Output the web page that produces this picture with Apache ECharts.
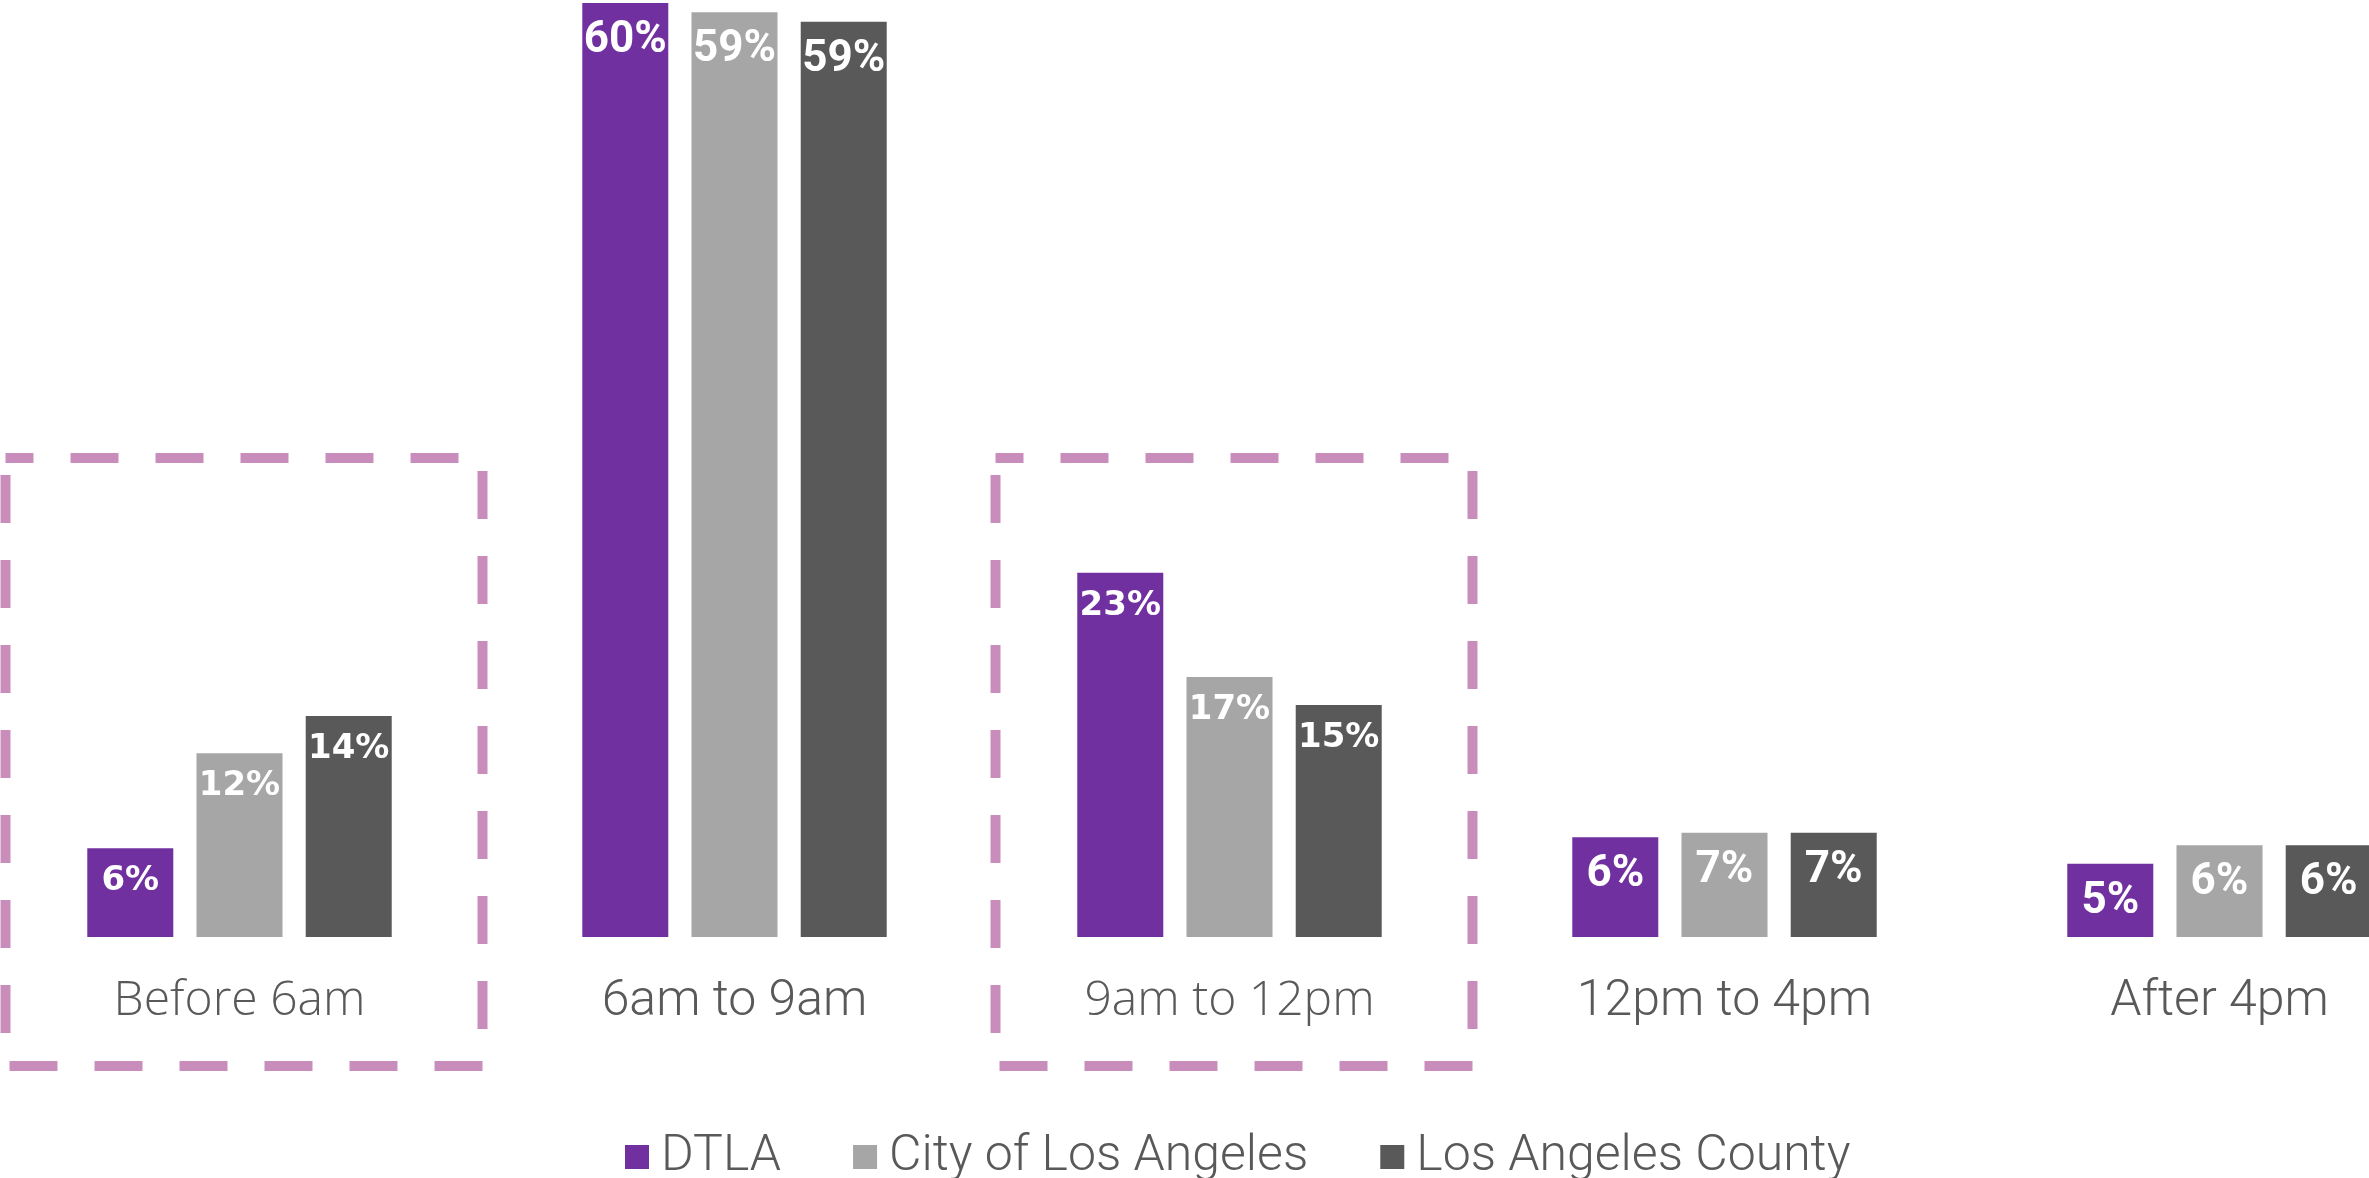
<!DOCTYPE html>
<html>
<head>
<meta charset="utf-8">
<script src="https://cdn.jsdelivr.net/npm/echarts@6/dist/echarts.min.js"></script>
<style>
  html, body { margin: 0; padding: 0; background: #fff; overflow: hidden; }
  /* chart is a bit wider than the window: the last group runs off the right edge */
  #main { position: absolute; left: -8px; top: 0; width: 2475px; height: 1178px; }
</style>
</head>
<body>
<div id="main"></div>
<script>
const categories = ['Before 6am', '6am to 9am', '9am to 12pm', '12pm to 4pm', 'After 4pm']
const seriesNames = ['DTLA', 'City of Los Angeles', 'Los Angeles County']
const dtla = [5.7, 60, 23.4, 6.4, 4.7]
const cityLA = [11.8, 59.4, 16.7, 6.7, 5.9]
const countyLA = [14.2, 58.8, 14.9, 6.7, 5.9]
// groups wrapped in the dashed box
const highlighted = ['Before 6am', '9am to 12pm']

const colors = ['#7030A0', '#A6A6A6', '#595959']
const boxColor = '#C98DBB'

const wideLabel = {fontFamily: 'DejaVu Sans', fontWeight: 'bold', fontSize: 34}
const narrowLabel = {fontFamily: 'Roboto', fontWeight: 'bold', fontSize: 44}

let myChart = echarts.init(document.getElementById('main'))

const makeSeries = (name, values, i) => ({
    name: name,
    type: 'bar',
    barWidth: 86,
    barGap: '27%',
    itemStyle: {color: colors[i]},
    data: values.map((v, k) => ({
        value: v,
        label: highlighted.includes(categories[k]) ? wideLabel : narrowLabel
    })),
    label: {
        show: true,
        position: 'insideTop',
        distance: 16,
        color: '#fff',
        formatter: p => Math.round(p.value) + '%'
    }
})

let option = {
    backgroundColor: '#fff',
    animation: false,
    grid: {left: 0, right: 0, top: 3, height: 934},
    legend: {
        left: 628,
        top: 1127,
        itemWidth: 24,
        itemHeight: 24,
        itemGap: 72,
        icon: 'rect',
        textStyle: {fontFamily: 'Roboto', fontWeight: 300, fontSize: 50, color: '#595959', padding: [0, 0, 0, 7]},
        data: seriesNames
    },
    xAxis: {
        type: 'category',
        data: categories,
        axisLine: {show: false},
        axisTick: {show: false},
        axisLabel: {
            margin: 40,
            formatter: v => highlighted.includes(v) ? '{w|' + v + '}' : '{n|' + v + '}',
            rich: {
                w: {fontFamily: '"Open Sans"', fontWeight: 300, fontSize: 48, color: '#595959'},
                n: {fontFamily: 'Roboto', fontWeight: 300, fontSize: 50, color: '#595959'}
            }
        }
    },
    yAxis: {
        type: 'value',
        min: 0,
        max: 60,
        show: false,
        splitLine: {show: false}
    },
    series: [
        makeSeries(seriesNames[0], dtla, 0),
        makeSeries(seriesNames[1], cityLA, 1),
        makeSeries(seriesNames[2], countyLA, 2)
    ]
}
myChart.setOption(option)

// dashed boxes round the highlighted groups
const boxes = highlighted.map(cat => {
    const [cx, base] = myChart.convertToPixel({gridIndex: 0}, [cat, 0])
    return {
        type: 'rect',
        shape: {x: cx - 234, y: base - 479, width: 477, height: 608},
        style: {fill: null, stroke: boxColor, lineWidth: 10, lineDash: [48, 37], lineDashOffset: 20},
        silent: true
    }
})
myChart.setOption({graphic: boxes})
</script>
</body>
</html>
